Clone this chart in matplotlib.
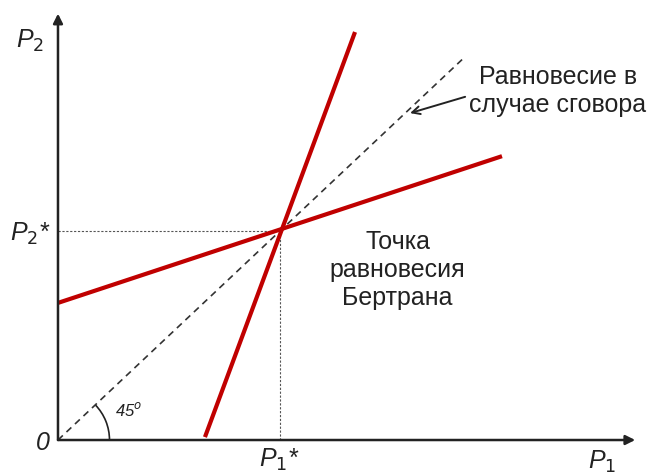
import numpy as np
import matplotlib.pyplot as plt
from matplotlib.patches import Arc

plt.rcParams['font.family'] = ['Liberation Sans', 'DejaVu Sans']

# equilibrium prices
p_star = 5.0
# reaction curves: the flat one and the steep one, crossing at (p_star, p_star)
flat_x = [0.0, 10.0]
flat_y = [3.28, 6.79]
steep_x = [3.31, 6.69]
steep_y = [0.07, 9.76]
# 45 degree line (collusion)
diag_end = 9.17

red = '#c00000'
ink = '#222222'

fig = plt.figure(figsize=(6.47, 4.75), dpi=100)
ax = fig.add_axes([0, 0, 1, 1])
ax.set_xlim(-1.306, 13.266)
ax.set_ylim(-0.837, 10.526)
ax.axis('off')

# axes with arrows
ax.annotate('', xy=(13.0, 0), xytext=(0, 0),
            arrowprops=dict(arrowstyle='-|>', color=ink, lw=1.8, mutation_scale=14,
                            shrinkA=0, shrinkB=0))
ax.annotate('', xy=(0, 10.2), xytext=(0, 0),
            arrowprops=dict(arrowstyle='-|>', color=ink, lw=1.8, mutation_scale=14,
                            shrinkA=0, shrinkB=0))

# guide lines to the equilibrium
ax.plot([0, p_star], [p_star, p_star], color='#555555', lw=0.8, ls=(0, (2, 1.5)))
ax.plot([p_star, p_star], [0, p_star], color='#555555', lw=0.8, ls=(0, (2, 1.5)))

# 45 degree line
ax.plot([0, diag_end], [0, diag_end], color='#333333', lw=1.2, ls=(0, (4, 3)))

# reaction functions
ax.plot(flat_x, flat_y, color=red, lw=3, solid_capstyle='butt')
ax.plot(steep_x, steep_y, color=red, lw=3, solid_capstyle='butt')

# 45 degree arc
ax.add_patch(Arc((0, 0), 2 * 1.16, 2 * 1.22, theta1=0, theta2=45, color=ink, lw=1.2))
ax.text(1.28, 0.58, '45$^{o}$', fontsize=12, style='italic', color=ink)

# labels
lab = dict(fontsize=18, style='italic', color=ink, va='center')
ax.text(-0.95, 9.55, 'P$_2$', **lab)
ax.text(-1.08, 4.93, 'P$_2$*', **lab)
ax.text(-0.5, -0.07, '0', **lab)
ax.text(p_star, -0.48, 'P$_1$*', ha='center', **lab)
ax.text(12.25, -0.52, 'P$_1$', ha='center', **lab)

ax.text(7.65, 4.06, 'Точка\nравновесия\nБертрана', fontsize=18, color=ink,
        ha='center', va='center', linespacing=1.2)

ax.text(11.26, 8.35, 'Равновесие в\nслучае сговора', fontsize=18, color=ink,
        ha='center', va='center', linespacing=1.2)
ax.annotate('', xy=(7.93, 7.82), xytext=(9.17, 8.21),
            arrowprops=dict(arrowstyle='->', color=ink, lw=1.4, mutation_scale=14,
                            shrinkA=0, shrinkB=0))

fig.savefig('out.png', dpi=100)
